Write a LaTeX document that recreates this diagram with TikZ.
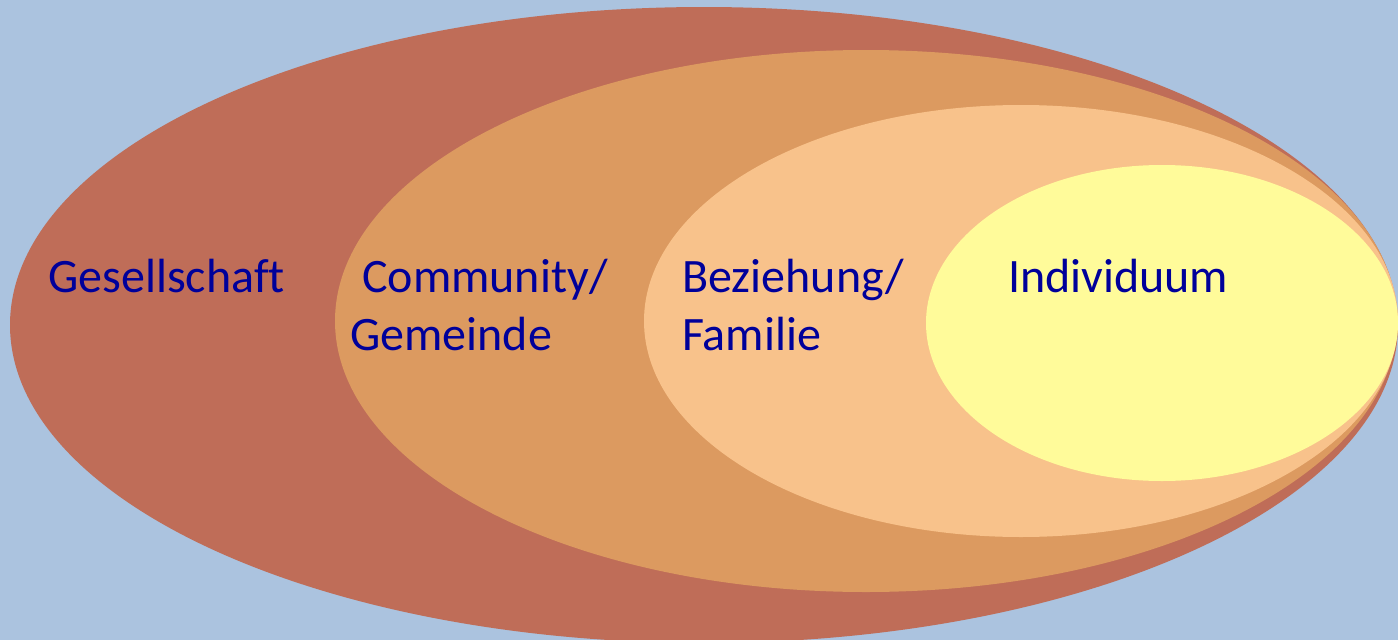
\documentclass[tikz,border=0pt]{standalone}
\usepackage{fontspec}
\setmainfont[Ligatures=NoCommon]{Carlito}
\definecolor{bgblue}{HTML}{ABC3DF}
\definecolor{ringA}{HTML}{BF6D58}
\definecolor{ringB}{HTML}{DC9A60}
\definecolor{ringC}{HTML}{F8C28B}
\definecolor{ringD}{HTML}{FFFB9A}
\definecolor{txt}{HTML}{00009A}
\begin{document}
\begin{tikzpicture}[x=1pt,y=-1pt,
  lbl/.style={anchor=base west,inner sep=0pt,text=txt,font=\fontsize{48}{57}\selectfont,align=left}]
\useasboundingbox (0,0) rectangle (1398,640);
\fill[bgblue] (0,0) rectangle (1398,640);
\begin{scope}
\clip (0,0) rectangle (1398,640);
\fill[ringA] (704,325) ellipse [x radius=694, y radius=318];
\fill[ringB] (866,321) ellipse [x radius=531, y radius=271];
\fill[ringC] (1021,321) ellipse [x radius=377, y radius=216];
\fill[ringD] (1162,323) ellipse [x radius=236, y radius=158];
\end{scope}
\node[lbl] (ges) at (48,292) {Gesellschaft};
\node[lbl] (com) at (362,292) {Community/};
\node[lbl] (gem) at (350,350) {Gemeinde};
\node[lbl] (bez) at (682,292) {Beziehung/};
\node[lbl] (fam) at (682,350) {Familie};
\node[lbl] (ind) at (1008,292) {Individuum};
\end{tikzpicture}
\end{document}
